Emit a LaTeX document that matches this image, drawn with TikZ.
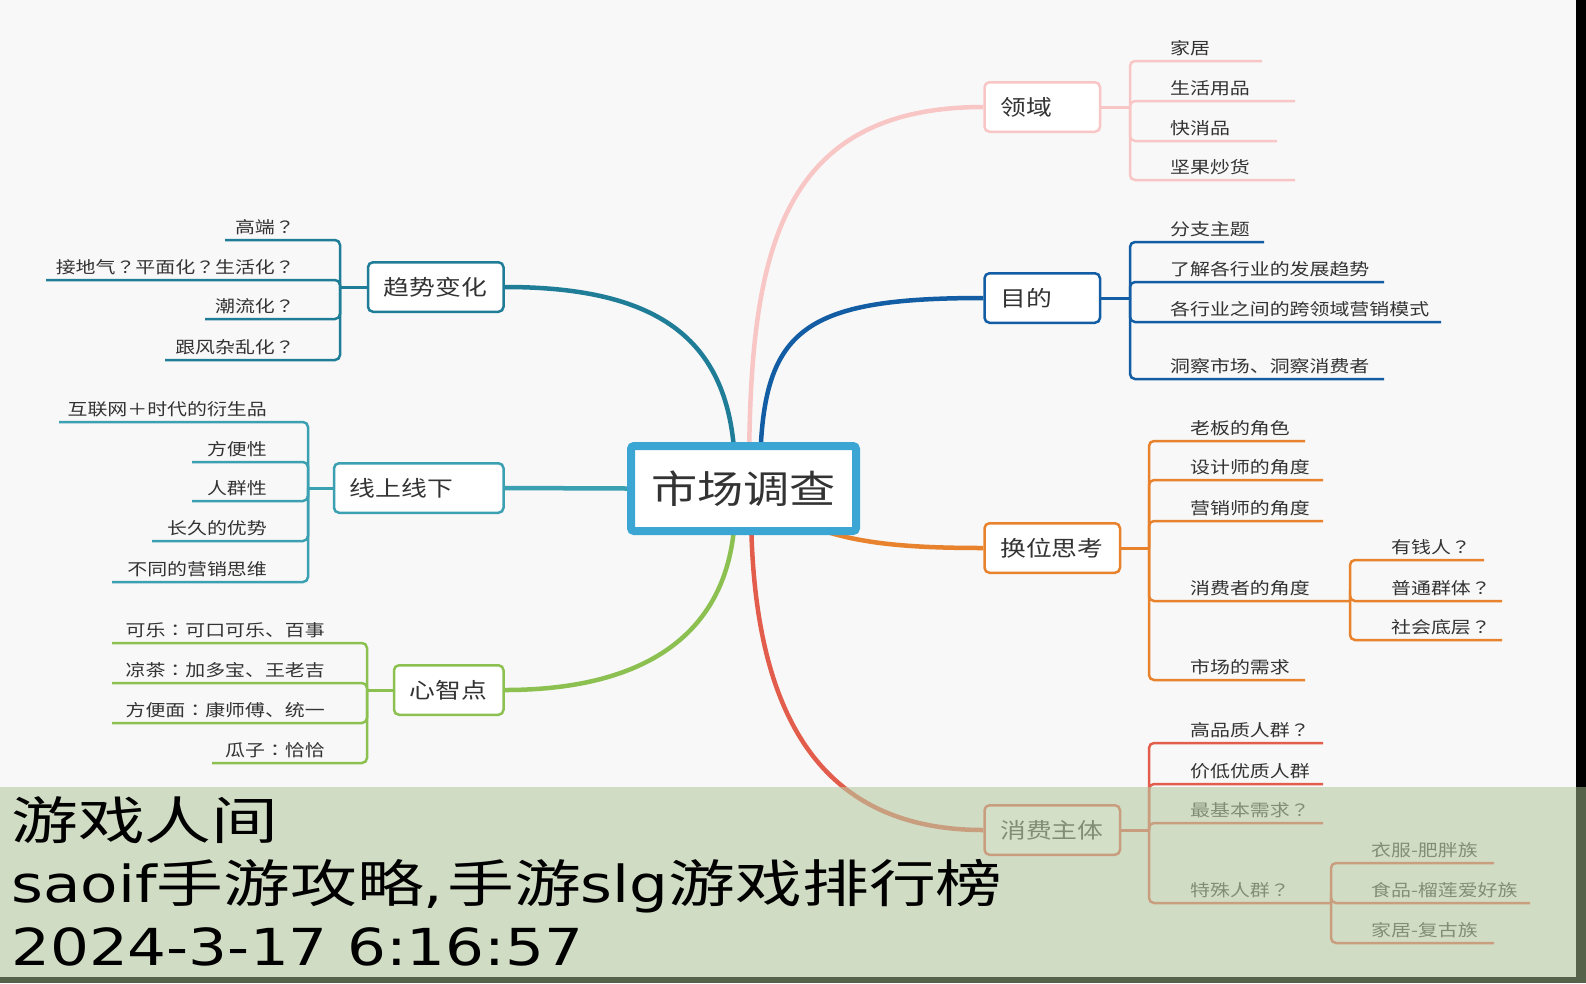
\documentclass[tikz,border=0pt]{standalone}
\usepackage{fontspec}
\newfontfamily\cjk[FakeStretch=1.2]{Noto Sans CJK SC}
\newfontfamily\cjkp[FakeStretch=1.2]{Noto Sans CJK TC}
\newfontfamily\wmcjkfont[FakeStretch=1.31]{Noto Sans CJK SC}
\newfontfamily\wmlatfont[FakeStretch=1.2]{DejaVu Sans}
\newcommand\wmC{\wmcjkfont\fontsize{51}{51}\selectfont}
\newcommand\wmL{\wmlatfont\fontsize{51}{51}\selectfont}
\newcommand\qm{{\cjkp ？}}
\newcommand\cln{{\cjkp ：}}
\definecolor{bgc}{HTML}{F8F8F8}
\definecolor{txt}{HTML}{333333}
\definecolor{cPink}{HTML}{F9C6C6}
\definecolor{cBlue}{HTML}{125DA3}
\definecolor{cOrange}{HTML}{E8822D}
\definecolor{cRed}{HTML}{E35D4C}
\definecolor{cTeal}{HTML}{1F7D98}
\definecolor{cCyan}{HTML}{3BA0B1}
\definecolor{cGreen}{HTML}{8CC152}
\definecolor{cCenter}{HTML}{3BA5D3}
\definecolor{bandc}{HTML}{B7CAA2}
\definecolor{stripc}{HTML}{56634A}
\pgfdeclarelayer{back}
\pgfdeclarelayer{curves}
\pgfdeclarelayer{front}
\pgfsetlayers{back,curves,main,front}
\tikzset{
  mainbox/.style={draw=#1, line width=2.5pt, rounded corners=5pt, fill=white,
    minimum height=49.5pt, inner ysep=0pt, inner xsep=15.75pt, anchor=west,
    font=\cjk\fontsize{21.5}{24}\selectfont, text=txt},
  leaf/.style={font=\cjk\fontsize{16.6}{19}\selectfont, text=txt, inner sep=0pt},
  branch/.style={draw=#1, line width=2.5pt, rounded corners=5pt},
  link/.style={draw=#1, line width=3pt},
  trunk/.style={draw=#1, line width=4.5pt},
}
\begin{document}
\begin{tikzpicture}[x=1pt,y=-1pt]
\useasboundingbox (0,0) rectangle (1586,983);
\begin{pgfonlayer}{back}
\fill[bgc] (0,0) rectangle (1586,983);
\end{pgfonlayer}

% central node
\node[draw=cCenter, line width=8pt, fill=white, rounded corners=3pt,
  minimum width=225pt, minimum height=85pt, inner sep=0pt,
  font=\cjk\fontsize{38.5}{40}\selectfont, text=txt] (center) at (743.5,488.5) {市场调查};

% main boxes
\node[mainbox=cPink] (lingyu) at (983.25,107) {\makebox[84pt][l]{领域}};
\node[mainbox=cBlue] (mudi) at (983.25,298) {\makebox[84pt][l]{目的}};
\node[mainbox=cOrange] (huanwei) at (983.25,548) {\makebox[104pt][l]{换位思考}};
\node[mainbox=cRed] (xiaofei) at (983.25,830) {\makebox[104pt][l]{消费主体}};
\node[mainbox=cTeal, anchor=east] (qushi) at (504.75,287) {\makebox[104pt][l]{趋势变化}};
\node[mainbox=cCyan, anchor=east] (xianshang) at (504.75,488) {\makebox[138pt][l]{线上线下}};
\node[mainbox=cGreen, anchor=east] (xinzhi) at (504.75,690) {\makebox[78pt][l]{心智点}};

% trunks
\begin{pgfonlayer}{curves}
\coordinate (sPink) at (749,470);
\coordinate (sBlue) at (760,470);
\coordinate (sTeal) at (735,470);
\coordinate (sGreen) at (735,510);
\coordinate (sOrange) at (760,500);
\coordinate (sRed) at (751,510);
\draw[trunk=cPink] (sPink) .. controls (750,260) and (775,107) .. (lingyu.west);
\draw[trunk=cBlue] (sBlue) .. controls (762,330) and (800,298) .. (mudi.west);
\draw[trunk=cTeal] (sTeal) .. controls (733,340) and (660,287) .. (qushi.east);
\draw[trunk=cCyan] (center.west) -- (xianshang.east);
\draw[trunk=cGreen] (sGreen) .. controls (733,630) and (650,690) .. (xinzhi.east);
\draw[trunk=cOrange] (sOrange) .. controls (820,540) and (880,548) .. (huanwei.west);
\draw[trunk=cRed] (sRed) .. controls (752,700) and (810,830) .. (xiaofei.west);
\end{pgfonlayer}

% 领域
\coordinate (bLy) at (1130,107);
\draw[link=cPink] (lingyu.east) -- (bLy);
\foreach \y/\e/\t [count=\i] in {61/1262/家居, 101/1295/生活用品, 141/1277/快消品, 180/1295/坚果炒货}{
  \draw[branch=cPink] (bLy) -- (1130,\y) -- (\e,\y);
  \node[leaf, anchor=base west] (ly\i) at (1170,\y-7) {\t};
}
% 目的
\coordinate (bMd) at (1130,298);
\draw[link=cBlue] (mudi.east) -- (bMd);
\foreach \y/\e/\t [count=\i] in {242/1264/分支主题, 282/1384/了解各行业的发展趋势, 322/1441/各行业之间的跨领域营销模式, 379/1384/洞察市场、洞察消费者}{
  \draw[branch=cBlue] (bMd) -- (1130,\y) -- (\e,\y);
  \node[leaf, anchor=base west] (md\i) at (1170,\y-7) {\t};
}
% 换位思考
\coordinate (bHw) at (1149,548);
\draw[link=cOrange] (huanwei.east) -- (bHw);
\foreach \y/\e/\t [count=\i] in {441/1305/老板的角色, 480/1323/设计师的角度, 521/1323/营销师的角度, 601/1350/消费者的角度, 680/1305/市场的需求}{
  \draw[branch=cOrange] (bHw) -- (1149,\y) -- (\e,\y);
  \node[leaf, anchor=base west] (hw\i) at (1190,\y-7) {\t};
}
\coordinate (bHs) at (1350,601);
\foreach \y/\e/\t [count=\i] in {560/1484/有钱人\qm, 601/1502/普通群体\qm, 640/1502/社会底层\qm}{
  \draw[branch=cOrange] (bHs) -- (1350,\y) -- (\e,\y);
  \node[leaf, anchor=base west] (hs\i) at (1391,\y-7) {\t};
}
% 消费主体
\coordinate (bXf) at (1149,830);
\draw[link=cRed] (xiaofei.east) -- (bXf);
\foreach \y/\e/\t [count=\i] in {743/1323/高品质人群\qm, 784/1323/价低优质人群, 823/1323/最基本需求\qm, 903/1331/特殊人群\qm}{
  \draw[branch=cRed] (bXf) -- (1149,\y) -- (\e,\y);
  \node[leaf, anchor=base west] (xf\i) at (1190,\y-7) {\t};
}
\coordinate (bXs) at (1331,903);
\foreach \y/\e/\t [count=\i] in {863/1494/衣服-肥胖族, 903/1530/食品-榴莲爱好族, 943/1494/家居-复古族}{
  \draw[branch=cRed] (bXs) -- (1331,\y) -- (\e,\y);
  \node[leaf, anchor=base west] (xs\i) at (1371,\y-7) {\t};
}
% 趋势变化
\coordinate (bQs) at (340,287);
\draw[link=cTeal] (qushi.west) -- (bQs);
\foreach \y/\e/\t [count=\i] in {240/225/高端\qm, 280/46/接地气\qm 平面化\qm 生活化\qm, 319/205/潮流化\qm, 360/165/跟风杂乱化\qm}{
  \draw[branch=cTeal] (bQs) -- (340,\y) -- (\e,\y);
  \node[leaf, anchor=base east] (qs\i) at (295,\y-7) {\t};
}
% 线上线下
\coordinate (bXx) at (308,488);
\draw[link=cCyan] (xianshang.west) -- (bXx);
\foreach \y/\e/\t [count=\i] in {422/59/互联网＋时代的衍生品, 462/192/方便性, 501/192/人群性, 541/152/长久的优势, 582/112/不同的营销思维}{
  \draw[branch=cCyan] (bXx) -- (308,\y) -- (\e,\y);
  \node[leaf, anchor=base east] (xx\i) at (267,\y-7) {\t};
}
% 心智点
\coordinate (bXz) at (367,690);
\draw[link=cGreen] (xinzhi.west) -- (bXz);
\foreach \y/\e/\t [count=\i] in {643/112/可乐\cln 可口可乐、百事, 683/112/凉茶\cln 加多宝、王老吉, 723/112/方便面\cln 康师傅、统一, 763/212/瓜子\cln 恰恰}{
  \draw[branch=cGreen] (bXz) -- (367,\y) -- (\e,\y);
  \node[leaf, anchor=base east] (xz\i) at (325,\y-7) {\t};
}

% overlay band and watermark
\begin{pgfonlayer}{front}
\fill[bandc, opacity=0.6] (0,787) rectangle (1576,977);
\fill[black] (1576,0) rectangle (1586,787);
\fill[stripc] (1576,787) rectangle (1586,983);
\fill[stripc] (0,977) rectangle (1586,983);
\node[anchor=base west, inner sep=0pt, text=black] (wm1) at (11,839) {\wmC 游戏人间};
\node[anchor=base west, inner sep=0pt, text=black] (wm2) at (11,902) {{\wmL saoif}{\wmC 手游攻略}{\wmL ,\kern4pt}{\wmC 手游}{\wmL slg}{\wmC 游戏排行榜}};
\node[anchor=base west, inner sep=0pt, text=black] (wm3) at (11,965) {\wmL 2024-3-17 6:16:57};
\end{pgfonlayer}
\end{tikzpicture}
\end{document}
